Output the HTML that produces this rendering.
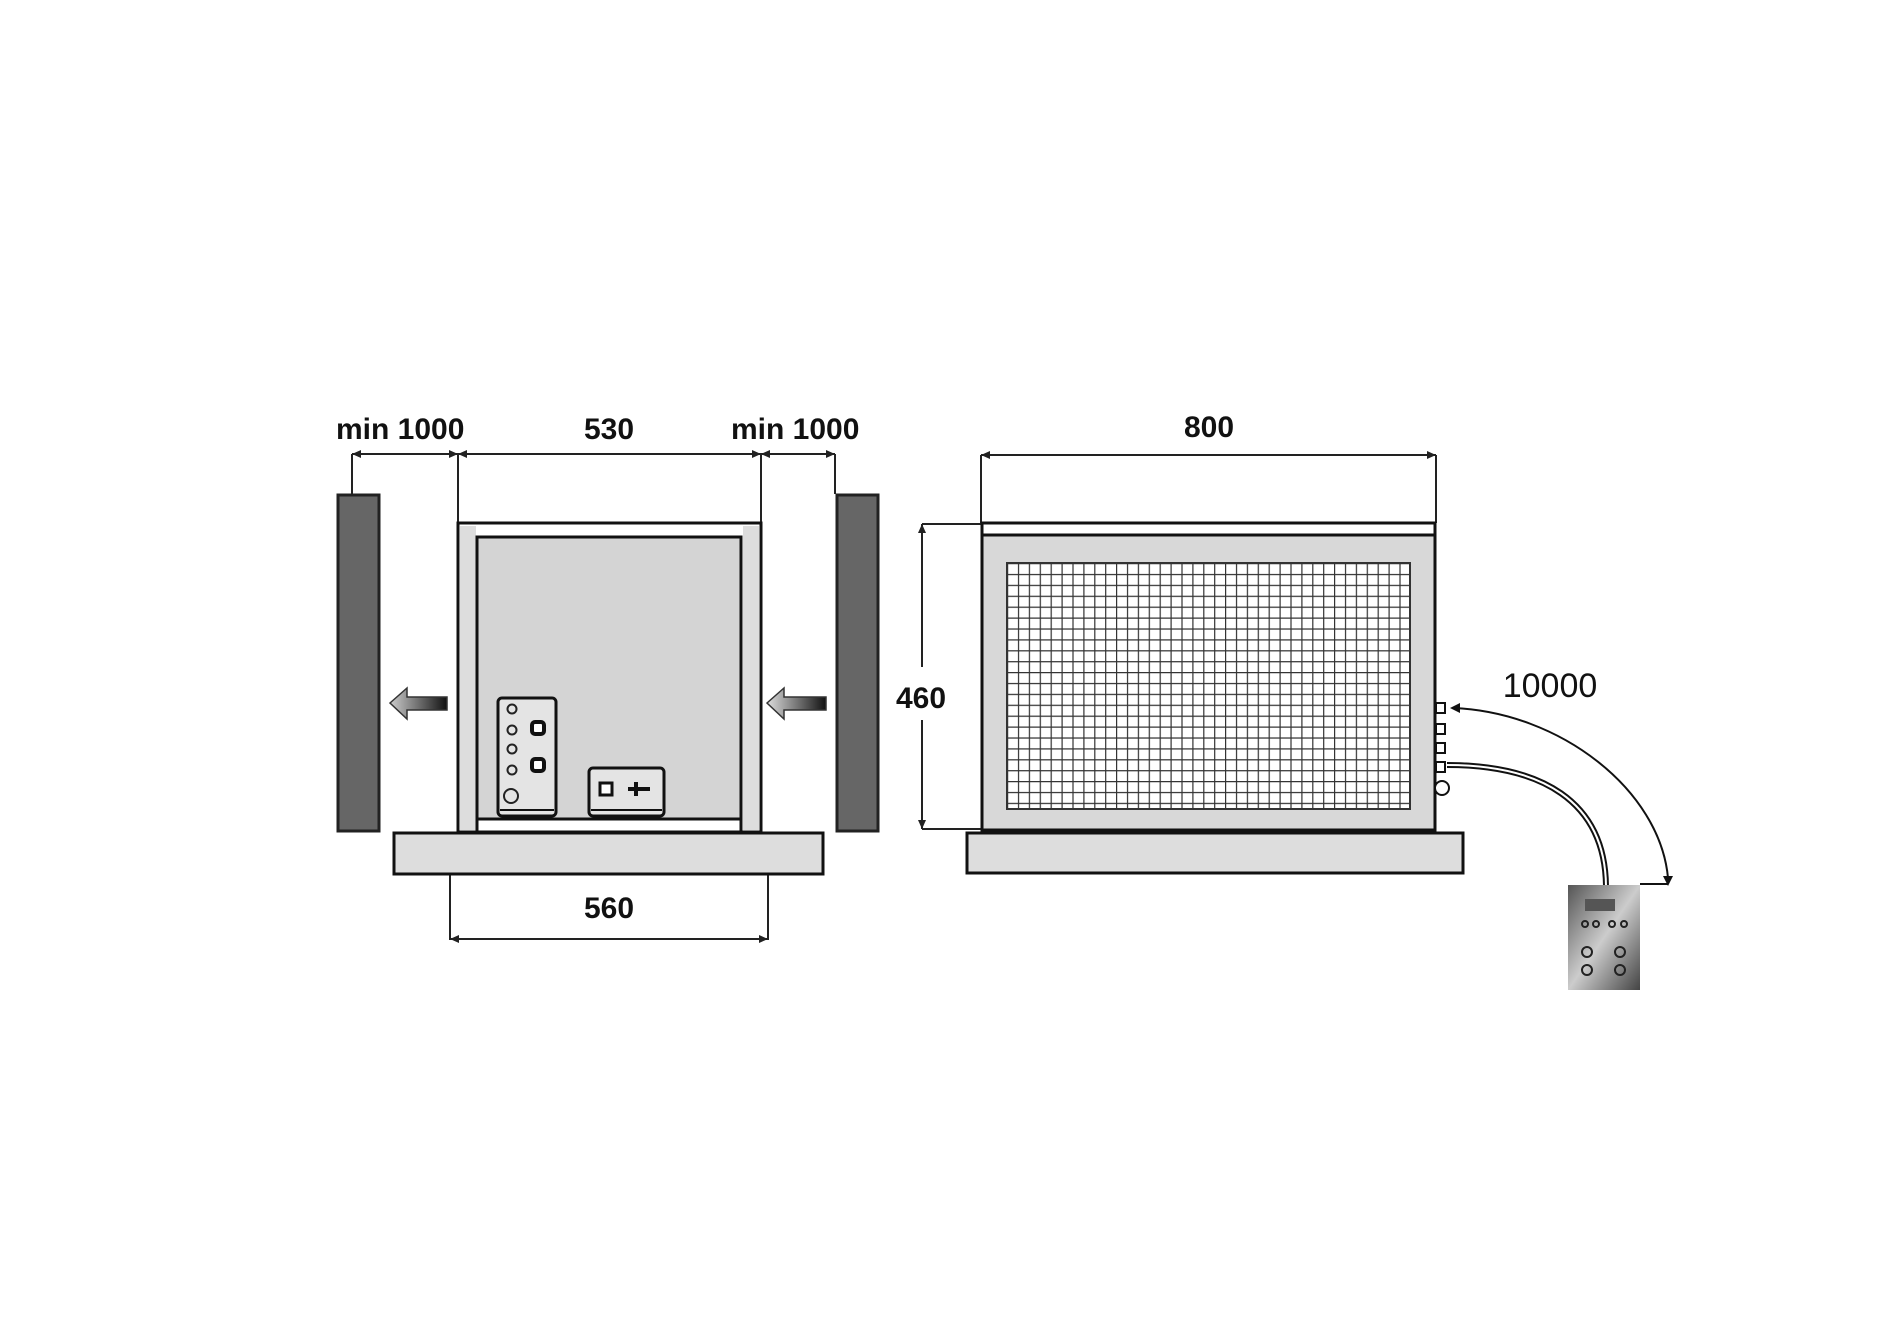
<!DOCTYPE html>
<html><head><meta charset="utf-8"><style>
html,body{margin:0;padding:0;background:#fff}
svg{display:block}
text{font-family:"Liberation Sans",sans-serif;font-weight:bold;fill:#111}
</style></head><body>
<svg width="1890" height="1336" viewBox="0 0 1890 1336" xmlns="http://www.w3.org/2000/svg">
<defs>
<pattern id="grid" x="1007" y="563" width="10.9" height="10.9" patternUnits="userSpaceOnUse">
<rect width="10.9" height="10.9" fill="#fff"/>
<path d="M0 0H10.9M0 0V10.9" stroke="#333" stroke-width="2.4"/>
</pattern>
<linearGradient id="ag" x1="0" x2="1" y1="0" y2="0"><stop offset="0" stop-color="#ccc"/><stop offset="1" stop-color="#111"/></linearGradient>
<linearGradient id="ag2" x1="0" x2="1" y1="0" y2="0"><stop offset="0" stop-color="#ddd"/><stop offset="1" stop-color="#111"/></linearGradient>
<linearGradient id="cg" x1="0" x2="1" y1="0" y2="1"><stop offset="0" stop-color="#555"/><stop offset="0.5" stop-color="#ccc"/><stop offset="1" stop-color="#444"/></linearGradient>
</defs>

<g font-size="30">
<text x="336" y="439">min 1000</text>
<text x="609" y="439" text-anchor="middle">530</text>
<text x="731" y="439">min 1000</text>
<text x="609" y="918" text-anchor="middle">560</text>
</g>
<g stroke="#222" stroke-width="2" fill="none">
<line x1="352" y1="454" x2="835" y2="454"/>
<line x1="352" y1="454" x2="352" y2="494"/>
<line x1="458" y1="454" x2="458" y2="523"/>
<line x1="761" y1="454" x2="761" y2="523"/>
<line x1="835" y1="454" x2="835" y2="494"/>
<line x1="450" y1="874" x2="450" y2="940"/>
<line x1="768" y1="874" x2="768" y2="940"/>
<line x1="450" y1="939" x2="768" y2="939"/>
</g>
<g fill="#222">
<path d="M352 454l9-4v8z"/><path d="M458 454l-9-4v8z"/><path d="M458 454l9-4v8z"/>
<path d="M761 454l-9-4v8z"/><path d="M761 454l9-4v8z"/><path d="M835 454l-9-4v8z"/>
<path d="M450 939l9-4v8z"/><path d="M768 939l-9-4v8z"/>
</g>
<rect x="338" y="495" width="41" height="336" fill="#666" stroke="#222" stroke-width="3"/>
<rect x="837" y="495" width="41" height="336" fill="#666" stroke="#222" stroke-width="3"/>
<rect x="458" y="523" width="303" height="309" fill="#fff" stroke="#111" stroke-width="3"/>
<rect x="460" y="526" width="16" height="304" fill="#ddd"/>
<rect x="743" y="526" width="16" height="304" fill="#ddd"/>
<rect x="477" y="537" width="264" height="282" fill="#d4d4d4" stroke="#111" stroke-width="3"/>
<line x1="477" y1="537" x2="477" y2="832" stroke="#111" stroke-width="3"/>
<line x1="741" y1="537" x2="741" y2="832" stroke="#111" stroke-width="3"/>
<rect x="394" y="833" width="429" height="41" fill="#ddd" stroke="#111" stroke-width="3"/>
<path d="M390 703l17-15v9h40v13h-40v9z" fill="url(#ag)" stroke="#333" stroke-width="1.5"/>
<path d="M767 703l17-15v9h42v13h-42v9z" fill="url(#ag2)" stroke="#333" stroke-width="1.5"/>
<rect x="498" y="698" width="58" height="118" rx="4" fill="#e4e4e4" stroke="#111" stroke-width="3"/>
<line x1="500" y1="810" x2="554" y2="810" stroke="#111" stroke-width="2"/>
<g fill="none" stroke="#222" stroke-width="2">
<circle cx="512" cy="709" r="4.5"/><circle cx="512" cy="730" r="4.5"/><circle cx="512" cy="749" r="4.5"/><circle cx="512" cy="770" r="4.5"/><circle cx="511" cy="796" r="7"/>
</g>
<rect x="532" y="722" width="12" height="12" rx="3" fill="#fff" stroke="#111" stroke-width="4"/>
<rect x="532" y="759" width="12" height="12" rx="3" fill="#fff" stroke="#111" stroke-width="4"/>
<rect x="589" y="768" width="75" height="48" rx="4" fill="#e4e4e4" stroke="#111" stroke-width="3"/>
<line x1="591" y1="810" x2="662" y2="810" stroke="#111" stroke-width="2"/>
<rect x="600" y="783" width="12" height="12" fill="#fff" stroke="#111" stroke-width="3"/>
<path d="M628 789h22M636 782v14" stroke="#111" stroke-width="4"/>

<g font-size="30">
<text x="1209" y="437" text-anchor="middle">800</text>
<text x="921" y="708" text-anchor="middle" style="font-weight:600">460</text>
<text x="1550" y="697" text-anchor="middle" style="font-weight:normal;font-size:34px">10000</text>
</g>
<g stroke="#222" stroke-width="2" fill="none">
<line x1="981" y1="455" x2="1436" y2="455"/>
<line x1="981" y1="455" x2="981" y2="523"/>
<line x1="1436" y1="455" x2="1436" y2="523"/>
<line x1="922" y1="524" x2="982" y2="524"/>
<line x1="922" y1="829" x2="982" y2="829"/>
<line x1="922" y1="524" x2="922" y2="667"/>
<line x1="922" y1="720" x2="922" y2="829"/>
</g>
<g fill="#222">
<path d="M981 455l9-4v8z"/><path d="M1436 455l-9-4v8z"/>
<path d="M922 524l-4 9h8z"/><path d="M922 829l-4-9h8z"/>
</g>
<rect x="982" y="523" width="453" height="307" fill="#d8d8d8" stroke="#111" stroke-width="3"/>
<rect x="982" y="523" width="453" height="12" fill="#fff" stroke="#111" stroke-width="3"/>
<rect x="1007" y="563" width="403" height="246" fill="url(#grid)" stroke="#333" stroke-width="2"/>
<rect x="967" y="833" width="496" height="40" fill="#ddd" stroke="#111" stroke-width="3"/>
<g fill="#fff" stroke="#111" stroke-width="2">
<rect x="1436" y="703" width="9" height="10"/><rect x="1436" y="724" width="9" height="10"/>
<rect x="1436" y="743" width="9" height="10"/><rect x="1436" y="762" width="9" height="10"/>
<circle cx="1442" cy="788" r="7"/>
</g>
<path d="M1447 765 C1540 765 1605 800 1606 886" fill="none" stroke="#111" stroke-width="6"/>
<path d="M1447 765 C1540 765 1605 800 1606 886" fill="none" stroke="#fff" stroke-width="2"/>
<path d="M1453 708 C1560 712 1660 790 1668 878" fill="none" stroke="#111" stroke-width="2"/>
<path d="M1668 884 L1640 884" stroke="#111" stroke-width="2"/>
<path d="M1450 708l10-5v10z" fill="#111"/>
<path d="M1668 886l-5-10h10z" fill="#111"/>
<rect x="1568" y="885" width="72" height="105" fill="url(#cg)"/>
<rect x="1585" y="899" width="30" height="12" fill="#555"/>
<g fill="none" stroke="#222" stroke-width="2">
<circle cx="1585" cy="924" r="3"/><circle cx="1596" cy="924" r="3"/><circle cx="1612" cy="924" r="3"/><circle cx="1624" cy="924" r="3"/>
<circle cx="1587" cy="952" r="5"/><circle cx="1620" cy="952" r="5"/>
<circle cx="1587" cy="970" r="5"/><circle cx="1620" cy="970" r="5"/>
</g>
</svg>
</body></html>
